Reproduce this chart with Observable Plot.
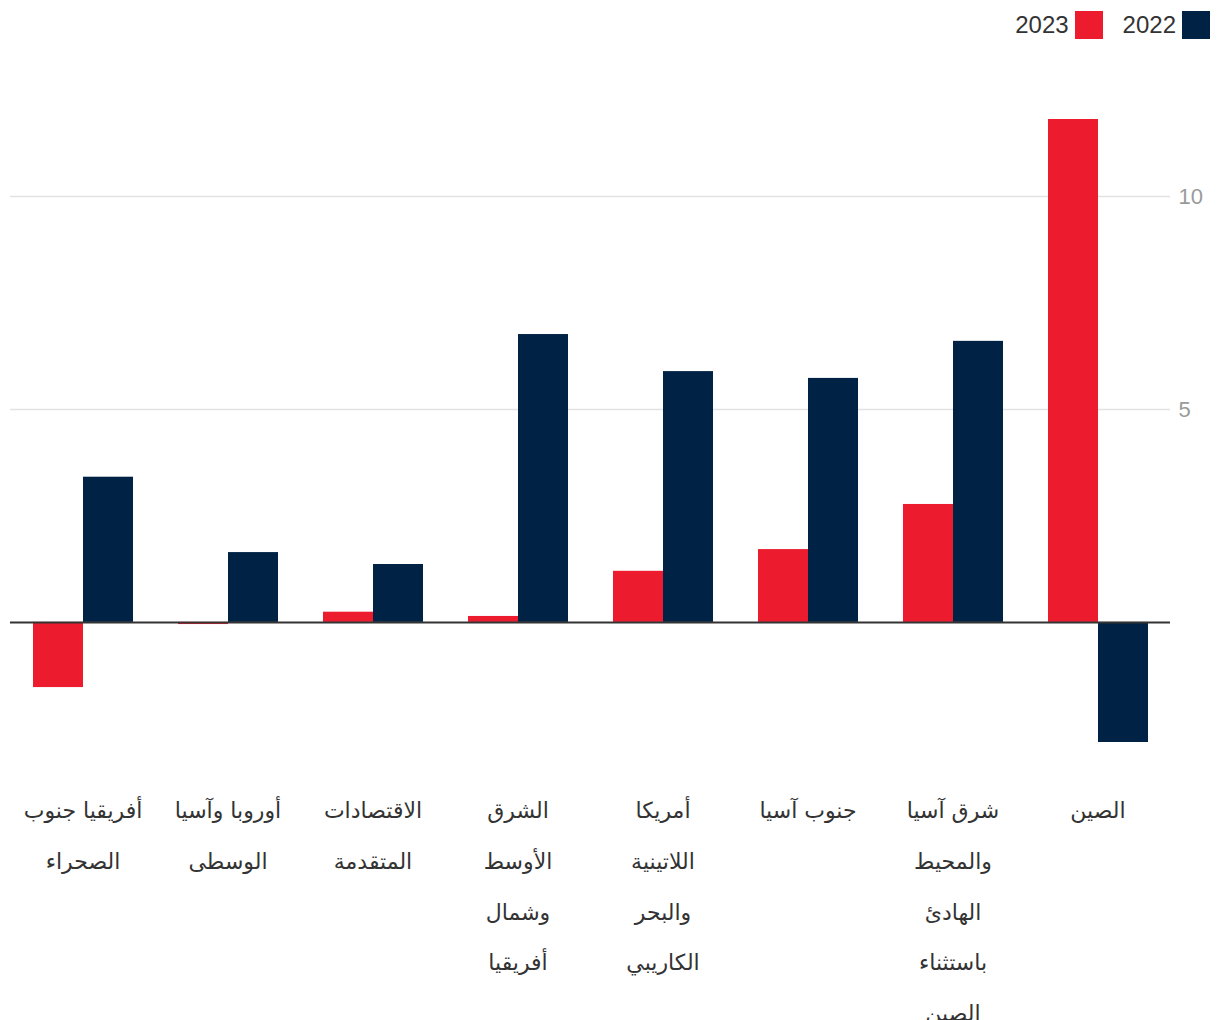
<!DOCTYPE html>
<html lang="ar">
<head>
<meta charset="utf-8">
<script src="https://cdn.jsdelivr.net/npm/d3@7"></script>
<script src="https://cdn.jsdelivr.net/npm/@observablehq/plot@0.6"></script>
<style>
  html, body { margin: 0; padding: 0; background: #fff; }
  body { width: 1220px; height: 1020px; overflow: hidden; font-family: "Liberation Sans", Arial, sans-serif; }
  #legend { height: 50px; display: flex; justify-content: flex-start; direction: rtl; align-items: center; padding: 0 10px; box-sizing: border-box; gap: 20px; }
  .item { display: flex; direction: rtl; align-items: center; gap: 6px; }
  .sw { width: 28px; height: 28px; display: inline-block; }
  .lab { font-size: 24px; color: #333; direction: ltr; }
  #chart svg { display: block; overflow: visible; }
</style>
</head>
<body>
<div id="legend"></div>
<div id="chart"></div>
<script>
// Categories (logical order, right-to-left in the chart)
const categories = [
  "الصين",
  "شرق آسيا\nوالمحيط\nالهادئ\nباستثناء\nالصين",
  "جنوب آسيا",
  "أمريكا\nاللاتينية\nوالبحر\nالكاريبي",
  "الشرق\nالأوسط\nوشمال\nأفريقيا",
  "الاقتصادات\nالمتقدمة",
  "أوروبا وآسيا\nالوسطى",
  "أفريقيا جنوب\nالصحراء"
];
const years = ["2023", "2022"];
const values2022 = [-2.82, 6.60, 5.73, 5.89, 6.76, 1.36, 1.64, 3.41];
const values2023 = [11.81, 2.77, 1.71, 1.20, 0.14, 0.24, -0.05, -1.53];
const yTicks = [5, 10];
const colors = {"2023": "#EC1C2E", "2022": "#002244"};

const data = [];
categories.forEach((c, i) => {
  data.push({category: c, year: "2023", value: values2023[i]});
  data.push({category: c, year: "2022", value: values2022[i]});
});

// Legend (RTL: 2022 on the right)
const legend = document.getElementById("legend");
["2022", "2023"].forEach(y => {
  const it = document.createElement("div");
  it.className = "item";
  it.innerHTML = `<span class="sw" style="background:${colors[y]}"></span><span class="lab">${y}</span>`;
  legend.appendChild(it);
});

const allVals = values2022.concat(values2023);
const yMin = d3.min(allVals), yMax = d3.max(allVals);

const chart = Plot.plot({
  width: 1220,
  height: 970,
  marginTop: 69,
  marginBottom: 278,
  marginLeft: 9,
  marginRight: 50,
  style: {fontFamily: "\"Liberation Sans\", Arial, sans-serif", background: "#fff"},
  fx: {domain: categories, reverse: true, padding: 0, label: null},
  x: {domain: years, paddingInner: 0, paddingOuter: 0.45, axis: null},
  y: {domain: [yMin, yMax], label: null},
  color: {domain: years, range: [colors["2023"], colors["2022"]]},
  marks: [
    Plot.gridY(yTicks, {stroke: "#e2e2e2", strokeOpacity: 1, strokeWidth: 1.5, facetAnchor: null}),
    Plot.barY(data, {fx: "category", x: "year", y: "value", fill: "year", insetLeft: 0, insetRight: 0}),
    Plot.ruleY([0], {stroke: "#333", strokeWidth: 2}),
    Plot.axisY(yTicks, {anchor: "right", tickSize: 0, tickPadding: 8, fontSize: 22, fill: "#9a9a9a", label: null}),
    Plot.axisFx({anchor: "bottom", tickSize: 0, tickPadding: 40, fontSize: 22, lineHeight: 2.3, fill: "#333", label: null,
                 fontFamily: "\"DejaVu Sans\", sans-serif"})
  ]
});
document.getElementById("chart").appendChild(chart);
</script>
</body>
</html>
